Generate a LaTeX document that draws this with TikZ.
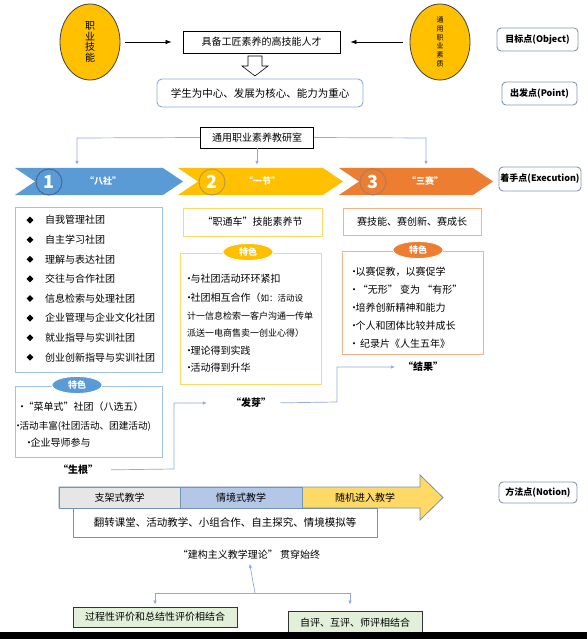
\documentclass[tikz,border=0pt]{standalone}
\usepackage{fontspec}
\setmainfont{Noto Sans CJK SC}
\usepackage{xcolor}
\usetikzlibrary{shapes.geometric, shapes.symbols, arrows.meta, positioning, calc}

\definecolor{bluebar}{HTML}{5B9BD5}
\definecolor{goldbar}{HTML}{FFC000}
\definecolor{orangebar}{HTML}{ED7D31}
\definecolor{linkblue}{HTML}{8FAADC}
\definecolor{tagframe}{HTML}{8497B0}
\definecolor{boxblue}{HTML}{9DC3E6}
\definecolor{boxgold}{HTML}{FFD966}
\definecolor{boxorange}{HTML}{F4B183}
\definecolor{greybox}{HTML}{E7E6E6}
\definecolor{lightblue}{HTML}{B4C7E7}
\definecolor{arrowgold}{HTML}{FFD966}
\definecolor{evalgreen}{HTML}{E2F0D9}
\definecolor{bandframe}{HTML}{7491B8}

% tight bullet (the CJK one is full width)
\newcommand\dotmark{\kern-0.3em•\kern-0.35em}

\begin{document}
\begin{tikzpicture}[
  x=1pt, y=-1pt,
  txt/.style={font=\fontsize{10}{12}\selectfont, inner sep=0pt},
  smalltxt/.style={font=\fontsize{9}{11}\selectfont, inner sep=0pt},
  listbox/.style={draw=#1, line width=0.8pt, fill=white, inner sep=0pt},
  tagbox/.style={draw=tagframe, line width=0.9pt, rounded corners=4pt, fill=white,
    minimum height=23, inner sep=0pt, font=\bfseries\fontsize{9}{11}\selectfont},
  chevron/.style={signal, signal from=west, signal to=east, signal pointer angle=68,
    fill=#1, minimum height=27, inner sep=0pt},
  numring/.style={circle, draw=#1, line width=1pt, minimum size=26, inner sep=0pt,
    text=white, font=\bfseries\fontsize{18}{18}\selectfont},
  chevtext/.style={text=white, inner sep=0pt, font=\bfseries\fontsize{9}{11}\selectfont},
  feattag/.style={ellipse, fill=#1, draw=white, line width=0.8pt, minimum width=50,
    minimum height=17, inner sep=0pt, text=white, font=\bfseries\fontsize{9}{11}\selectfont},
  linkline/.style={draw=linkblue, line width=0.7pt},
  linkarrow/.style={-{Latex[length=4pt,width=3.5pt]}},
]

  % ── Canvas ──
  \fill[white] (0,0) rectangle (587,639);
  \useasboundingbox (0,0) rectangle (587,639);

  % ── Goal row ──
  \node[ellipse, fill=goldbar, draw=black!75, line width=0.8pt, minimum width=60, minimum height=76,
    inner sep=0pt, align=center, font=\fontsize{10}{10.5}\selectfont] (skill) at (90,42) {职\\业\\技\\能};
  \node[ellipse, fill=goldbar, draw=black!75, line width=0.8pt, minimum width=60, minimum height=76,
    inner sep=0pt, align=center, font=\fontsize{7}{8.8}\selectfont] (quality) at (440,42) {通\\用\\职\\业\\素\\质};
  \node[listbox=black, txt, minimum width=157, minimum height=22] (goal) at (261.5,42) {具备工匠素养的高技能人才};
  \draw[-{Latex[length=6pt,width=4.5pt]}, line width=0.7pt, shorten <=5pt, shorten >=11pt] (skill.east) -- (goal.west);
  \draw[-{Latex[length=6pt,width=4.5pt]}, line width=0.7pt, shorten <=7pt, shorten >=10pt] (quality.west) -- (goal.east);

  % hollow block arrow
  \draw[fill=white, line width=0.6pt] (248,56) -- (262,56) -- (262,66) -- (268,66) -- (255,76) -- (242,66) -- (248,66) -- cycle;

  % ── Starting point ──
  \node[draw=linkblue, line width=0.9pt, rounded corners=5pt, fill=white, minimum width=206, minimum height=28,
    inner sep=0pt, font=\fontsize{10.5}{12}\selectfont] (core) at (260,93) {学生为中心、发展为核心、能力为重心};
  \node[listbox=black, txt, minimum width=113, minimum height=21] (lab) at (257,137.5) {通用职业素养教研室};

  % ── Chevrons ──
  \node[chevron=bluebar, minimum width=168] (chev1) at (99,181.5) {};
  \node[chevron=goldbar, minimum width=165] (chev2) at (260.5,181.5) {};
  \node[chevron=orangebar, minimum width=154] (chev3) at (416,181.5) {};
  \node[numring=bluebar!70!black] (num1) at (49,182) {1};
  \node[numring=goldbar!45!gray] (num2) at (212,182) {2};
  \node[numring=orangebar!35!gray] (num3) at (373,182) {3};
  \node[chevtext] (name1) at (103,181) {“八社”};
  \node[chevtext] (name2) at (262,181) {“一节”};
  \node[chevtext] (name3) at (425,181) {“三赛”};

  \coordinate (splitL) at (77,138);
  \coordinate (splitR) at (426,138);
  \draw[linkline, linkarrow, shorten >=3pt] (lab.west) -- (splitL) -- (splitL |- chev1.north);
  \draw[linkline, linkarrow, shorten >=3pt] (lab.south) -- (lab.south |- chev2.north);
  \draw[linkline, linkarrow, shorten >=3pt] (lab.east) -- (splitR) -- (splitR |- chev3.north);

  % ── Column 1: clubs ──
  \node[listbox=boxblue, minimum width=147, minimum height=165] (clubs) at (88.5,289.5) {};
  \foreach \txt [count=\i] in {自我管理社团, 自主学习社团, 理解与表达社团, 交往与合作社团,
      信息检索与处理社团, 企业管理与企业文化社团, 就业指导与实训社团, 创业创新指导与实训社团} {
    \node[diamond, fill=black, minimum size=7, inner sep=0pt] (dot\i) at (30,200.5+19.6*\i) {};
    \node[txt, anchor=west] (club\i) at (45,200.5+19.6*\i) {\txt};
  }

  \node[listbox=boxblue, minimum width=147, minimum height=71] (feat1) at (88.5,421.5) {};
  \node[feattag=bluebar] (tag1) at (77,385) {特色};
  \node[txt, anchor=west] (f1a) at (20,407) {\dotmark“菜单式”社团（八选五）};
  \node[txt, anchor=west, font=\fontsize{9.6}{12}\selectfont] (f1b) at (16,426) {\dotmark 活动丰富(社团活动、团建活动)};
  \node[txt, anchor=west] (f1c) at (27,443) {\dotmark 企业导师参与};

  % ── Column 2: festival ──
  \node[listbox=boxgold, txt, minimum width=139, minimum height=28] (fest) at (252.5,222) {“职通车”技能素养节};
  \node[listbox=boxgold, minimum width=141, minimum height=131] (feat2) at (250.5,318.5) {};
  \node[feattag=goldbar] (tag2) at (248,252) {特色};
  \node[txt, anchor=west] (f2a) at (187,279) {\dotmark 与社团活动环环紧扣};
  \node[txt, anchor=west] (f2b) at (187,298) {\dotmark 社团相互合作（{\fontsize{8.5}{10}\selectfont 如：活动设}};
  \node[smalltxt, anchor=west] (f2c) at (187,316) {计一信息检索一客户沟通一传单};
  \node[smalltxt, anchor=west] (f2d) at (187,333) {派送一电商售卖一创业心得）};
  \node[txt, anchor=west] (f2e) at (187,351) {\dotmark 理论得到实践};
  \node[txt, anchor=west] (f2f) at (187,368) {\dotmark 活动得到升华};

  % ── Column 3: contests ──
  \node[listbox=boxorange, txt, minimum width=138, minimum height=27] (contest) at (412,221.5) {赛技能、赛创新、赛成长};
  \node[listbox=boxorange, minimum width=141, minimum height=103] (feat3) at (412.5,302.5) {};
  \node[feattag=orangebar] (tag3) at (418,250) {特色};
  \foreach \txt [count=\i] in {以赛促教，以赛促学, {} “无形” 变为 “有形”, 培养创新精神和能力,
      个人和团体比较并成长, {}\ \ 纪录片《人生五年》} {
    \node[txt, anchor=west] (f3\i) at (352,254+18*\i) {\dotmark\txt};
  }

  % ── Growth links ──
  \node[inner sep=0pt, font=\bfseries\fontsize{10}{12}\selectfont] (root) at (78,470) {“生根”};
  \node[inner sep=0pt, font=\bfseries\itshape\fontsize{10}{12}\selectfont] (sprout) at (251,403) {“发芽”};
  \node[inner sep=0pt, font=\bfseries\fontsize{10}{12}\selectfont] (fruit) at (423,367) {“结果”};
  \coordinate (bend1) at (174,469);
  \coordinate (bend2) at (337,402);
  \draw[linkline, linkarrow, shorten <=13pt, shorten >=24pt] (root.east) -- (bend1) |- (sprout.west);
  \draw[linkline, linkarrow, shorten <=9pt, shorten >=8pt] (sprout.east) -- (bend2) |- (fruit.west);

  % ── Method band ──
  \draw[bandframe, fill=arrowgold, line width=0.8pt]
    (59,487) -- (420,487) -- (420,475) -- (443,497.5) -- (420,520) -- (420,508) -- (59,508) -- cycle;
  \node[listbox=bandframe, fill=greybox, txt, minimum width=121, minimum height=21] (scaffold) at (119.5,497.5) {支架式教学};
  \node[listbox=bandframe, fill=lightblue, txt, minimum width=122, minimum height=21] (situate) at (241,497.5) {情境式教学};
  \node[txt] (random) at (365,497.5) {随机进入教学};
  \node[listbox=bandframe, minimum width=304, minimum height=29, inner sep=0pt,
    font=\fontsize{10.5}{12}\selectfont] (ways) at (225,522.5) {翻转课堂、活动教学、小组合作、自主探究、情境模拟等};
  \node[txt] (theory) at (249,555) {“建构主义教学理论” 贯穿始终};

  % ── Evaluation ──
  \node[listbox=black!80, fill=evalgreen, txt, minimum width=164, minimum height=20] (eval1) at (155,617) {过程性评价和总结性评价相结合};
  \node[listbox=black!80, fill=evalgreen, txt, minimum width=134, minimum height=24] (eval2) at (355,623) {自评、互评、师评相结合};
  \coordinate (fork) at (255,593);
  \draw[linkline, linkarrow, shorten >=4pt] (fork) -- (theory.south);
  \draw[linkline, linkarrow, shorten >=2pt] (fork) -| (eval1.north);
  \draw[linkline, linkarrow, shorten >=6pt] (fork) -| ([xshift=-5pt]eval2.north);

  % ── Right tags ──
  \node[tagbox, minimum width=81] (tObject) at (537.5,39.5) {目标点(Object)};
  \node[tagbox, minimum width=75] (tPoint) at (539.5,93.5) {出发点(Point)};
  \node[tagbox, minimum width=82, minimum height=24] (tExec) at (540,179) {着手点(Execution)};
  \node[tagbox, minimum width=78, minimum height=21] (tNotion) at (538,492.5) {方法点(Notion)};

  % ── Bottom strip ──
  \fill[black] (0,632) rectangle (587,639);

\end{tikzpicture}
\end{document}
